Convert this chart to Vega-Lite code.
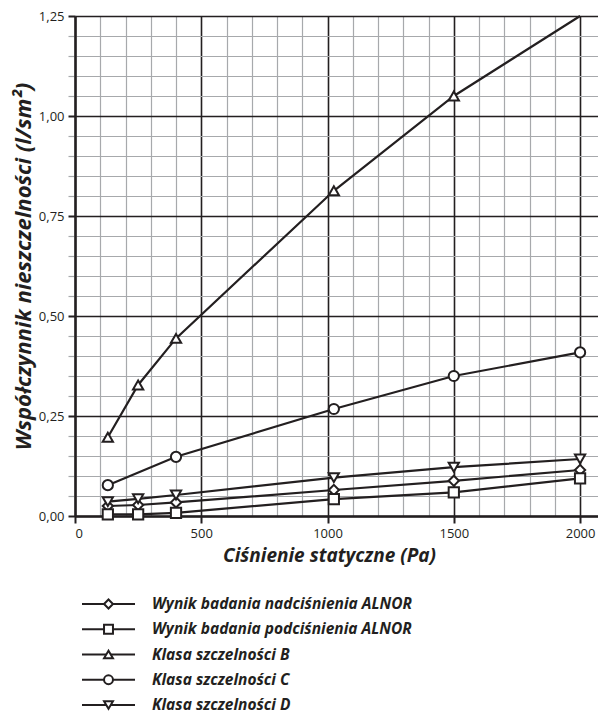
{
  "$schema": "https://vega.github.io/schema/vega-lite/v6.json",
  "width": 523,
  "height": 500,
  "autosize": {"type": "none"},
  "padding": {"left": 75, "top": 16, "right": 0, "bottom": 206},
  "background": "white",
  "view": {"stroke": null},
  "config": {
    "font": "Open Sans",
    "axis": {"labelFont": "Open Sans", "titleFont": "Open Sans"}
  },
  "datasets": {
    "series": [
      {"p": 130, "v": 0.025, "s": "Wynik badania nadciśnienia ALNOR"},
      {"p": 250, "v": 0.0275, "s": "Wynik badania nadciśnienia ALNOR"},
      {"p": 400, "v": 0.034, "s": "Wynik badania nadciśnienia ALNOR"},
      {"p": 1025, "v": 0.065, "s": "Wynik badania nadciśnienia ALNOR"},
      {"p": 1500, "v": 0.088, "s": "Wynik badania nadciśnienia ALNOR"},
      {"p": 2000, "v": 0.115, "s": "Wynik badania nadciśnienia ALNOR"},
      {"p": 130, "v": 0.004, "s": "Wynik badania podciśnienia ALNOR"},
      {"p": 250, "v": 0.004, "s": "Wynik badania podciśnienia ALNOR"},
      {"p": 400, "v": 0.008, "s": "Wynik badania podciśnienia ALNOR"},
      {"p": 1025, "v": 0.042, "s": "Wynik badania podciśnienia ALNOR"},
      {"p": 1500, "v": 0.059, "s": "Wynik badania podciśnienia ALNOR"},
      {"p": 2000, "v": 0.094, "s": "Wynik badania podciśnienia ALNOR"},
      {"p": 130, "v": 0.197, "s": "Klasa szczelności B"},
      {"p": 250, "v": 0.3275, "s": "Klasa szczelności B"},
      {"p": 400, "v": 0.444, "s": "Klasa szczelności B"},
      {"p": 1025, "v": 0.813, "s": "Klasa szczelności B"},
      {"p": 1500, "v": 1.05, "s": "Klasa szczelności B"},
      {"p": 2000, "v": 1.25, "s": "Klasa szczelności B"},
      {"p": 130, "v": 0.077, "s": "Klasa szczelności C"},
      {"p": 400, "v": 0.148, "s": "Klasa szczelności C"},
      {"p": 1025, "v": 0.2675, "s": "Klasa szczelności C"},
      {"p": 1500, "v": 0.35, "s": "Klasa szczelności C"},
      {"p": 2000, "v": 0.409, "s": "Klasa szczelności C"},
      {"p": 130, "v": 0.036, "s": "Klasa szczelności D"},
      {"p": 250, "v": 0.043, "s": "Klasa szczelności D"},
      {"p": 400, "v": 0.0525, "s": "Klasa szczelności D"},
      {"p": 1025, "v": 0.096, "s": "Klasa szczelności D"},
      {"p": 1500, "v": 0.122, "s": "Klasa szczelności D"},
      {"p": 2000, "v": 0.1425, "s": "Klasa szczelności D"}
    ],
    "legendRows": [
      {"s": "Wynik badania nadciśnienia ALNOR"},
      {"s": "Wynik badania podciśnienia ALNOR"},
      {"s": "Klasa szczelności B"},
      {"s": "Klasa szczelności C"},
      {"s": "Klasa szczelności D"}
    ]
  },
  "layer": [
    {
      "data": {"name": "series"},
      "layer": [
        {
          "mark": {"type": "line", "color": "#231f20", "strokeWidth": 2.2},
          "encoding": {
            "x": {
              "field": "p", "type": "quantitative",
              "scale": {"domain": [0, 2071], "nice": false, "zero": false},
              "axis": {
                "orient": "bottom",
                "values": [100, 200, 300, 400, 600, 700, 800, 900, 1100, 1200, 1300, 1400, 1600, 1700, 1800, 1900],
                "grid": true, "gridColor": "#a7a9ac", "gridWidth": 1.2,
                "ticks": false, "labels": false, "domain": false, "title": null
              }
            },
            "y": {
              "field": "v", "type": "quantitative",
              "scale": {"domain": [0, 1.25], "nice": false},
              "axis": {
                "orient": "left",
                "values": [0.05, 0.1, 0.15, 0.2, 0.3, 0.35, 0.4, 0.45, 0.55, 0.6, 0.65, 0.7, 0.8, 0.85, 0.9, 0.95, 1.05, 1.1, 1.15, 1.2],
                "grid": true, "gridColor": "#a7a9ac", "gridWidth": 1.2,
                "ticks": true, "tickSize": 7, "tickColor": "#a7a9ac", "tickWidth": 1.2,
                "labels": false, "domain": false, "title": null
              }
            },
            "detail": {"field": "s", "type": "nominal"}
          }
        },
        {
          "transform": [{"filter": "!(datum.s == 'Klasa szczelności B' && datum.p == 2000)"}],
          "mark": {"type": "point", "filled": true, "fill": "white", "stroke": "#231f20", "strokeWidth": 2, "size": 105, "opacity": 1},
          "encoding": {
            "x": {
              "field": "p", "type": "quantitative",
              "axis": {
                "orient": "bottom",
                "values": [0, 500, 1000, 1500, 2000], "format": "d",
                "grid": true, "gridColor": "#231f20", "gridWidth": 1.6,
                "domain": true, "domainColor": "#231f20", "domainWidth": 2.5,
                "ticks": true, "tickSize": 7, "tickWidth": 2, "tickColor": "#231f20",
                "labelFontSize": 13, "labelColor": "#231f20", "labelPadding": 4,
                "title": "Ciśnienie statyczne (Pa)",
                "titleFontSize": 19, "titleFontStyle": "italic", "titleFontWeight": "bold", "titleColor": "#231f20",
                "titlePadding": 6, "titleX": 254
              }
            },
            "y": {
              "field": "v", "type": "quantitative",
              "axis": {
                "orient": "left",
                "values": [0, 0.25, 0.5, 0.75, 1, 1.25],
                "labelExpr": "replace(format(datum.value, '.2f'), '.', ',')",
                "grid": true, "gridColor": "#231f20", "gridWidth": 1.6,
                "domain": true, "domainColor": "#231f20", "domainWidth": 2.5,
                "ticks": true, "tickSize": 7, "tickWidth": 2, "tickColor": "#231f20",
                "labelFontSize": 13, "labelColor": "#231f20", "labelPadding": 4,
                "title": "Współczynnik nieszczelności (l/sm²)",
                "titleFontSize": 22, "titleFontStyle": "italic", "titleFontWeight": "bold", "titleColor": "#231f20",
                "titlePadding": 3
              }
            },
            "shape": {
              "field": "s", "type": "nominal",
              "scale": {
                "domain": ["Wynik badania nadciśnienia ALNOR", "Wynik badania podciśnienia ALNOR", "Klasa szczelności B", "Klasa szczelności C", "Klasa szczelności D"],
                "range": ["diamond", "square", "triangle-up", "circle", "triangle-down"]
              },
              "legend": null
            }
          }
        }
      ],
      "resolve": {"axis": {"x": "independent", "y": "independent"}}
    },
    {
      "data": {"name": "legendRows"},
      "encoding": {
        "y": {
          "field": "s", "type": "nominal",
          "scale": {
            "type": "point",
            "domain": ["Wynik badania nadciśnienia ALNOR", "Wynik badania podciśnienia ALNOR", "Klasa szczelności B", "Klasa szczelności C", "Klasa szczelności D"],
            "range": [588, 689],
            "padding": 0
          },
          "axis": null
        }
      },
      "layer": [
        {
          "mark": {"type": "rule", "color": "#231f20", "strokeWidth": 2.2},
          "encoding": {
            "x": {"datum": 0, "type": "quantitative", "scale": {"domain": [0, 70], "range": [7, 77], "nice": false, "zero": false}, "axis": null},
            "x2": {"datum": 53}
          }
        },
        {
          "mark": {"type": "point", "filled": true, "fill": "white", "stroke": "#231f20", "strokeWidth": 2, "size": 80, "opacity": 1},
          "encoding": {
            "x": {"datum": 26.5, "type": "quantitative", "axis": null},
            "shape": {
              "field": "s", "type": "nominal",
              "scale": {
                "domain": ["Wynik badania nadciśnienia ALNOR", "Wynik badania podciśnienia ALNOR", "Klasa szczelności B", "Klasa szczelności C", "Klasa szczelności D"],
                "range": ["diamond", "square", "triangle-up", "circle", "triangle-down"]
              },
              "legend": null
            }
          }
        },
        {
          "mark": {"type": "text", "align": "left", "baseline": "middle", "font": "Open Sans", "fontSize": 15.5, "fontStyle": "italic", "fontWeight": "bold", "color": "#231f20"},
          "encoding": {
            "x": {"datum": 70, "type": "quantitative", "axis": null},
            "text": {"field": "s", "type": "nominal"}
          }
        }
      ]
    }
  ],
  "resolve": {
    "scale": {"x": "independent", "y": "independent"},
    "axis": {"x": "independent", "y": "independent"}
  }
}
